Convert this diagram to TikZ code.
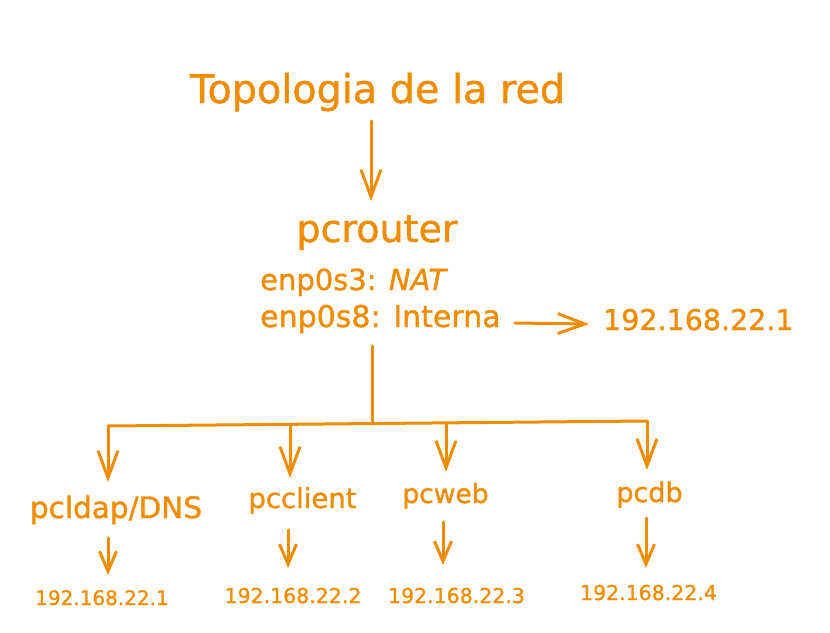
\documentclass[tikz,border=0pt]{standalone}
\usepackage{fontspec}
\setmainfont{DejaVu Sans}[FakeBold=1.2]
\usetikzlibrary{arrows.meta}
\definecolor{exo}{HTML}{F08C00}
\tikzset{
  lbl/.style={text=exo, inner sep=0pt, anchor=base, font=\fontsize{#1}{#1}\selectfont},
  conn/.style={draw=exo, line width=3pt, line cap=round, line join=round},
  arr/.style={conn, -{Straight Barb[length=27pt,width=20pt,line width=3pt]}},
  sarr/.style={conn, -{Straight Barb[length=20pt,width=17pt,line width=3pt]}},
}
\begin{document}
\begin{tikzpicture}[x=1pt,y=-1pt]
\useasboundingbox (0,0) rectangle (830,632);
% title and router
\node[lbl=39.7] (title) at (377.5,103) {Topologia de la red};
\node[lbl=38] (router) at (377,242) {pcrouter};
\node[lbl=29, anchor=base west] (e3) at (260,290) {enp0s3: \textit{NAT}};
\node[lbl=30, anchor=base west] (e8) at (260,327) {enp0s8: Interna};
\node[lbl=28.5, anchor=base west] (ip0) at (603,330) {192.168.22.1};
\coordinate (ta) at (371,121);
\coordinate (tb) at (371,201);
\draw[arr] (ta) -- (tb);
\coordinate (ia) at (515,323);
\coordinate (ib) at (589,324);
\draw[arr] (ia) -- (ib);
% trunk and bus
\coordinate (rs) at (372,346);
\coordinate (j) at (372,423);
\coordinate (b1) at (108,426);
\coordinate (b2) at (290,424);
\coordinate (b3) at (446,423);
\coordinate (b4) at (647,421);
\draw[conn] (rs) -- (j);
\draw[conn] (b1) -- (b4);
% hosts
\node[lbl=29.5] (pc1) at (116,518) {pcldap/DNS};
\node[lbl=27.5] (pc2) at (302.5,508) {pcclient};
\node[lbl=26.5] (pc3) at (445.5,503) {pcweb};
\node[lbl=27] (pc4) at (649.5,502) {pcdb};
\coordinate (c1) at (108,482);
\coordinate (c2) at (290,478);
\coordinate (c3) at (446,472);
\coordinate (c4) at (647,470);
\draw[arr] (b1) -- (c1);
\draw[arr] (b2) -- (c2);
\draw[arr] (b3) -- (c3);
\draw[arr] (b4) -- (c4);
% addresses
\node[lbl=20] (ip1) at (102,605) {192.168.22.1};
\node[lbl=20.5] (ip2) at (293,603) {192.168.22.2};
\node[lbl=20.5] (ip3) at (456.5,603) {192.168.22.3};
\node[lbl=20.5] (ip4) at (648.5,600) {192.168.22.4};
\coordinate (d1s) at (108,538);
\coordinate (d1e) at (108,575);
\coordinate (d2s) at (288,530);
\coordinate (d2e) at (288,568);
\coordinate (d3s) at (443,522);
\coordinate (d3e) at (443,565);
\coordinate (d4s) at (646,518);
\coordinate (d4e) at (646,568);
\draw[sarr] (d1s) -- (d1e);
\draw[sarr] (d2s) -- (d2e);
\draw[sarr] (d3s) -- (d3e);
\draw[sarr] (d4s) -- (d4e);
\end{tikzpicture}
\end{document}
